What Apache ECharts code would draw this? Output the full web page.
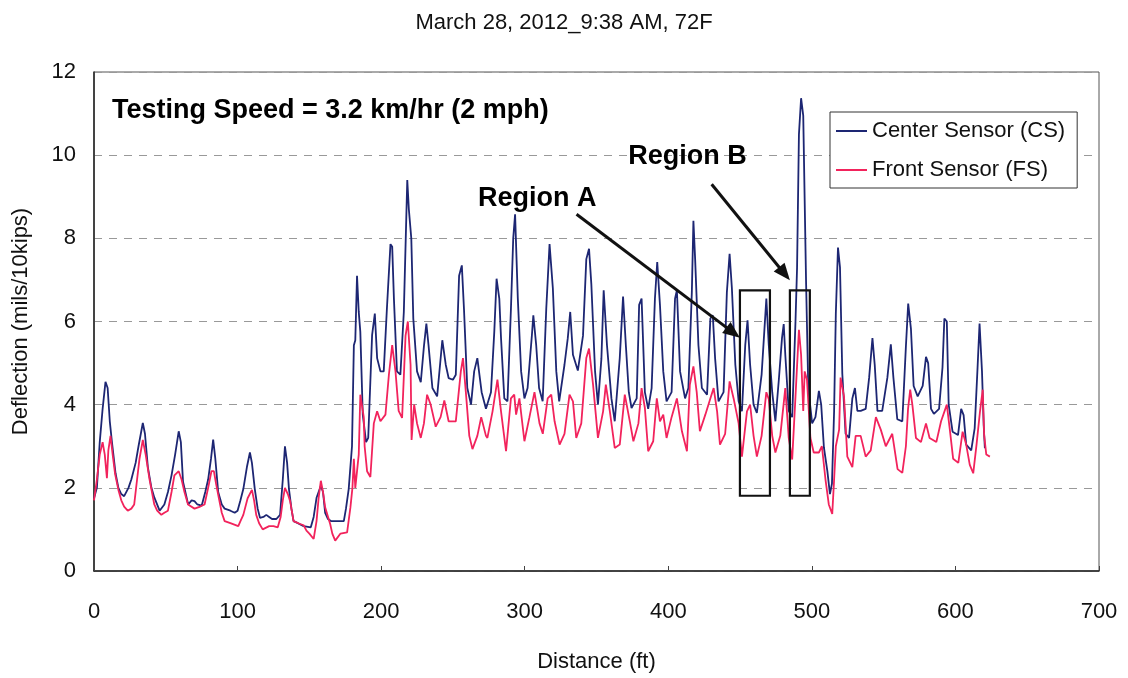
<!DOCTYPE html>
<html>
<head>
<meta charset="utf-8">
<script src="https://cdn.jsdelivr.net/npm/echarts@6/dist/echarts.min.js"></script>
<style>
html,body{margin:0;padding:0;background:#fff;}
#chart{width:1128px;height:678px;}
</style>
</head>
<body>
<div id="chart"></div>
<script>
// ---------------- DATA ----------------
const chartTitle = 'March 28, 2012_9:38 AM, 72F';
const xTitle = 'Distance (ft)';
const yTitle = 'Deflection (mils/10kips)';
const seriesNames = ['Center Sensor (CS)', 'Front Sensor (FS)'];

// Center Sensor (CS): distance (ft) and deflection (mils/10kips)
const csDist = [0,2,4,6,8,9.5,11,12.5,15,17,19,21,24,26,29,31,34,35.5,37.5,40,42,45.7,49,51.5,54,56.5,59,60.5,62,65.6,68,70,72,75,77.5,79.5,81.5,83,84.5,86.5,89,91,95,98,100,102,104,106.5,108.6,110,112,114,115.6,118,120,122,124,127,129.6,131.5,133,134.5,135.8,137.5,139,142,146,151,153,155,158,159.5,161,163,165,170,174,175.5,177.4,179.7,181,182,183.2,184.4,185.5,187.2,189.5,191,193.7,195.6,197.2,199.5,201.8,204,206.5,207.7,208.9,211,213.4,215.8,218.2,219.3,221,222.4,225,227.6,229.8,231.5,233,235.7,239,242.6,245,247,250,252,254.3,256.2,257.7,260,262.6,264.8,267,270,273,276.5,278.8,280.4,282.3,283.5,285.8,288,290.4,292,293.3,295.2,297.5,299.8,302,305,306,308,310,312.5,315,317.3,319.6,322,324,327.7,330,331.7,333.6,337,340.6,342.9,344.8,346.4,349,351,353.4,355,357.3,360.4,362.7,366.2,368.5,370.5,372.5,374.4,378,379.7,381.4,383.7,386,388.4,390.7,392.3,394.2,396.5,398.8,402.3,404.7,406,408.2,411.7,414,416.4,417.5,418.7,421,423.4,427,429.3,431,432.6,435,438.5,440.8,442.7,444.3,446.7,449,451.3,453.6,455.2,457,459.4,461.7,465,468.3,470,472.4,474.6,477,479.2,480.4,481.5,483.9,486.3,488.6,489.7,491,492.5,494,495,496,497.5,500.2,502.5,504.9,506.5,508.4,510.8,512.6,514,515.5,516.7,518.2,519.6,521.2,523.5,525.9,528.2,530,531.7,534,537.5,539.9,542.2,543.8,545.7,549,552.6,555,556.8,559.5,563,565.5,567.1,569,570.9,573.7,577.2,579.5,581,583,585,588.6,591,592.3,594,595.3,598,601.8,604,605.7,607.5,611,613.4,615.4,616.8,618.5,619.7,620.5];
const csDefl = [1.75,2.0,3.1,3.9,4.55,4.4,3.6,3.1,2.35,2.0,1.85,1.8,2.0,2.2,2.6,3.0,3.56,3.3,2.5,2.0,1.77,1.45,1.6,1.9,2.3,2.8,3.36,3.1,2.15,1.6,1.7,1.68,1.6,1.57,1.9,2.2,2.7,3.16,2.7,1.9,1.6,1.5,1.45,1.4,1.45,1.7,1.97,2.5,2.85,2.6,1.97,1.5,1.28,1.3,1.35,1.3,1.25,1.25,1.35,2.2,3.0,2.6,1.97,1.5,1.2,1.15,1.08,1.05,1.3,1.76,2.05,1.9,1.4,1.25,1.2,1.2,1.2,1.5,1.97,3.0,5.43,5.55,7.1,6.23,5.75,3.76,3.1,3.2,5.67,6.19,5.12,4.8,4.8,6.3,7.86,7.8,6.55,4.8,4.72,6.23,9.4,8.7,8.0,6.07,4.8,4.54,5.4,5.95,5.43,4.4,4.2,5.55,4.96,4.64,4.6,4.72,7.1,7.35,6.3,4.4,4.0,4.8,5.12,4.3,3.9,4.3,5.75,7.03,6.55,5.6,4.15,4.08,6.3,8.0,8.58,6.55,4.8,4.15,4.4,5.67,6.15,5.43,4.4,4.08,6.3,7.86,6.8,4.8,4.08,4.96,5.6,6.23,5.2,4.82,5.66,7.5,7.75,6.9,4.8,4.0,5.1,6.75,5.43,4.15,3.6,5.12,6.6,5.4,4.3,3.92,4.15,6.4,6.55,4.3,3.9,4.4,6.55,7.43,6.4,4.8,4.08,4.3,6.55,6.75,4.8,4.15,4.4,6.7,8.42,7.5,5.43,4.4,4.24,6.07,6.15,5.12,4.08,4.3,6.7,7.63,6.8,4.96,4.08,3.84,5.43,6.03,4.96,4.0,3.8,4.72,6.55,5.43,4.3,3.6,4.6,5.6,5.94,5.2,3.85,3.7,6.0,7.3,10.5,11.37,10.95,8.9,6.9,4.4,3.55,3.7,4.33,4.0,2.97,2.4,1.85,2.1,3.85,6.2,7.78,7.3,4.75,3.3,3.2,4.15,4.4,3.85,3.85,3.9,4.65,5.6,4.95,3.85,3.85,4.65,5.45,4.65,3.65,3.6,5.4,6.43,5.83,4.45,4.2,4.45,5.15,5.0,3.9,3.78,3.9,4.9,6.07,6.0,4.0,3.35,3.27,3.9,3.75,3.04,2.9,3.43,4.88,5.95,4.8,3.5,2.95];

// Front Sensor (FS): distance (ft) and deflection (mils/10kips)
const fsDist = [0,2,4,6,7.5,9,10,11.5,13,14.7,17,19,21,23.5,26,28,30,31.7,34,36,38.7,42,44,46.9,49,51.5,54,56,59,61,63,65.5,70,74,77,79.5,81.8,83.5,85,87,89,91,95,100.5,102,104,107,110,111.5,113,115,117.5,122,125,128,130,131.5,133,135,136.6,139,143.6,146,148,150,153,155,156.5,158,159.5,161,164.5,166,168,171.7,176.3,178.6,180,181,182,183,184.4,185.5,187.9,188.5,190.2,192.5,194.9,197.2,199.5,203,205.4,207.7,210,212.2,214.6,217,218.6,220.5,221.2,223,225,227.6,229.8,232,234.5,238,241.4,244,247,252,255.5,257,259,261.4,263.6,267,269.7,273,274,277.6,281,283.5,287,290.4,292.7,294,296.3,299.8,303.3,306.8,310.3,312.6,316,318.5,320.8,324.3,327.7,331.2,333.6,335.9,339.4,342.9,344.8,347.6,351,354.6,356.5,359.3,362.7,366.2,369.7,373.2,375.7,379.2,381.4,383.7,386,389.5,392,394.2,396.5,398.8,402.3,406,409.5,413,415,417.5,419.8,422,425.8,429.3,431.6,434,436,439.6,442.7,445.5,449,451.3,454.8,457,459.4,461.7,465,468.3,470,472.4,474.6,478,481.5,483.9,486.3,488.6,491,492.5,494,495,496.6,499,501.3,504.9,507,509.5,511.8,514.2,515.5,516.7,519,520,522.4,524.7,528.2,530.5,534,537.5,541,544.6,548,551.5,556,559.7,563,565.5,567,568.5,570,572.5,576,579.5,582,586.7,590,594,596,598.4,602,605,607.5,610,612.4,614.7,617,619,620,621.5,624];
const fsDefl = [1.7,2.2,2.8,3.1,2.8,2.23,2.9,3.25,2.8,2.33,1.95,1.7,1.55,1.45,1.5,1.6,2.2,2.7,3.15,2.8,2.2,1.6,1.45,1.35,1.4,1.45,1.9,2.3,2.4,2.2,1.9,1.6,1.5,1.55,1.6,2.0,2.4,2.4,2.1,1.75,1.4,1.2,1.15,1.08,1.2,1.35,1.75,1.95,1.7,1.35,1.15,1.0,1.08,1.08,1.05,1.3,1.7,2.0,1.85,1.68,1.2,1.13,1.1,0.97,0.9,0.77,1.2,1.77,2.17,1.9,1.53,1.13,0.9,0.73,0.9,0.93,1.53,2.0,2.7,2.0,2.0,2.8,4.24,3.7,3.0,2.4,2.26,3.55,3.84,3.6,3.76,4.72,5.43,4.8,3.85,3.68,5.66,6.0,4.96,3.15,4.0,3.55,3.2,3.55,4.24,4.0,3.47,3.7,4.1,3.6,3.6,4.8,5.12,4.3,3.25,2.93,3.25,3.7,3.25,3.2,3.84,4.6,3.84,2.88,4.15,4.24,3.76,4.15,3.12,3.7,4.3,3.55,3.3,4.15,4.24,3.6,3.04,3.3,4.24,4.08,3.2,3.55,5.12,5.35,4.48,3.2,3.84,4.48,3.84,2.96,3.04,4.24,3.6,3.12,3.55,4.4,3.92,2.88,3.12,4.15,3.6,3.76,3.2,3.7,4.15,3.36,2.88,4.48,4.92,4.3,3.36,3.76,4.15,4.4,3.84,3.04,3.3,4.56,4.15,3.55,2.75,3.84,4.0,3.25,2.75,3.25,4.3,4.13,3.25,2.85,3.25,4.4,3.2,2.68,4.2,5.8,5.2,3.85,4.8,4.6,3.2,2.85,2.85,3.0,2.2,1.6,1.37,2.2,3.0,3.4,4.65,4.2,2.75,2.5,3.25,3.25,2.75,2.9,3.7,3.4,3.0,3.3,2.45,2.36,3.0,3.9,4.36,4.0,3.2,3.1,3.55,3.2,3.1,3.6,4.0,3.43,2.7,2.6,3.35,3.04,2.55,2.35,3.04,3.8,4.36,3.27,2.8,2.75];

// Axis ticks
const xMin = 0, xMax = 700, xStep = 100;
const yMin = 0, yMax = 12, yStep = 2;

// Annotations (in data units)
const speedNote = {text: 'Testing Speed = 3.2 km/hr (2 mph)', x: 12.5, y: 11.07};
const regionLabels = [
  {text: 'Region A', x: 308.8, y: 8.96},
  {text: 'Region B', x: 413.3, y: 9.96}
];
const regionBoxes = [
  {x0: 449.9, x1: 470.8, y0: 1.81, y1: 6.75},
  {x0: 484.7, x1: 498.6, y0: 1.81, y1: 6.75}
];
const regionArrows = [
  {x0: 336.1, y0: 8.58, x1: 449.9, y1: 5.61},
  {x0: 430.2, y0: 9.30, x1: 484.7, y1: 6.99}
];

// ---------------- CHART ----------------
const FONT = '"Liberation Sans", Arial, sans-serif';
const pairs = (xs, ys) => xs.map((x, i) => [x, ys[i]]);

const chart = echarts.init(document.getElementById('chart'), null, {renderer: 'canvas'});
const option = {
  backgroundColor: '#ffffff',
  animation: false,
  textStyle: {fontFamily: FONT},
  title: {
    text: chartTitle, left: 'center', top: 7,
    textStyle: {fontFamily: FONT, fontSize: 22, fontWeight: 'normal', color: '#111'}
  },
  grid: {left: 94, right: 29, top: 72, bottom: 104, show: true, borderColor: '#555', borderWidth: 1, backgroundColor: 'transparent'},
  legend: {
    orient: 'vertical', left: 830, top: 112,
    backgroundColor: '#fff', borderColor: '#333', borderWidth: 1,
    padding: [8, 12, 7, 6], itemGap: 17, itemWidth: 31, itemHeight: 2,
    icon: 'rect',
    textStyle: {fontFamily: FONT, fontSize: 22, color: '#111'},
    data: seriesNames
  },
  xAxis: {
    type: 'value', min: xMin, max: xMax, interval: xStep,
    name: xTitle, nameLocation: 'middle', nameGap: 80,
    nameTextStyle: {fontFamily: FONT, fontSize: 22, color: '#111'},
    axisLine: {lineStyle: {color: '#222', width: 1.5}},
    axisTick: {inside: true, length: 5, lineStyle: {color: '#444'}},
    axisLabel: {fontFamily: FONT, fontSize: 22, color: '#111', margin: 30},
    splitLine: {show: false}
  },
  yAxis: {
    type: 'value', min: yMin, max: yMax, interval: yStep,
    name: yTitle, nameLocation: 'middle', nameGap: 62,
    nameTextStyle: {fontFamily: FONT, fontSize: 22, color: '#111'},
    axisLine: {show: true, lineStyle: {color: '#222', width: 1.5}},
    axisTick: {show: false},
    axisLabel: {fontFamily: FONT, fontSize: 22, color: '#111', margin: 18},
    splitLine: {show: true, lineStyle: {color: '#999', width: 1, type: [8, 7]}}
  },
  series: [
    {name: seriesNames[0], type: 'line', data: pairs(csDist, csDefl), showSymbol: false,
     lineStyle: {color: '#1d2673', width: 1.8}, itemStyle: {color: '#1d2673'}, z: 2},
    {name: seriesNames[1], type: 'line', data: pairs(fsDist, fsDefl), showSymbol: false,
     lineStyle: {color: '#f2235c', width: 1.8}, itemStyle: {color: '#f2235c'}, z: 3}
  ]
};
chart.setOption(option);

// Annotation graphics positioned through the chart's own scales
const P = (x, y) => chart.convertToPixel({gridIndex: 0}, [x, y]);
const graphics = [];
const sp = P(speedNote.x, speedNote.y);
graphics.push({type: 'text', x: sp[0], y: sp[1], z: 10,
  style: {text: speedNote.text, fontFamily: FONT, fontSize: 27, fontWeight: 'bold', fill: '#000', textAlign: 'left', textVerticalAlign: 'middle', verticalAlign: 'middle'}});
regionLabels.forEach(r => {
  const p = P(r.x, r.y);
  graphics.push({type: 'text', x: p[0], y: p[1], z: 10,
    style: {text: r.text, fontFamily: FONT, fontSize: 27, fontWeight: 'bold', fill: '#000', textAlign: 'center', textVerticalAlign: 'middle', verticalAlign: 'middle'}});
});
regionBoxes.forEach(b => {
  const a = P(b.x0, b.y1), c = P(b.x1, b.y0);
  graphics.push({type: 'rect', z: 10, shape: {x: a[0], y: a[1], width: c[0] - a[0], height: c[1] - a[1]},
    style: {fill: 'none', stroke: '#111', lineWidth: 2.2}});
});
regionArrows.forEach(ar => {
  const s = P(ar.x0, ar.y0), e = P(ar.x1, ar.y1);
  const dx = e[0] - s[0], dy = e[1] - s[1], L = Math.hypot(dx, dy);
  const ux = dx / L, uy = dy / L, hl = 17, hw = 7;
  const bx = e[0] - ux * hl, by = e[1] - uy * hl;
  graphics.push({type: 'line', z: 10, shape: {x1: s[0], y1: s[1], x2: bx + ux * 2, y2: by + uy * 2},
    style: {stroke: '#111', lineWidth: 3}});
  graphics.push({type: 'polygon', z: 10, shape: {points: [[e[0], e[1]], [bx - uy * hw, by + ux * hw], [bx + uy * hw, by - ux * hw]]},
    style: {fill: '#111'}});
});
chart.setOption({graphic: graphics});
</script>
</body>
</html>
